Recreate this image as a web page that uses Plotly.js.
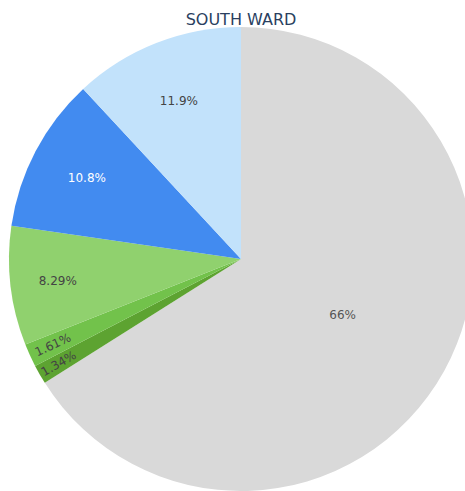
<!DOCTYPE html>
<html>
<head>
<meta charset="utf-8">
<script src="https://cdn.plot.ly/plotly-3.0.1.min.js"></script>
<style>
html, body { margin: 0; padding: 0; overflow: hidden; background: #fff; }
#chart { width: 482px; height: 491px; }
</style>
</head>
<body>
<div id="chart"></div>
<script>
const labels = ["Other", "Group A", "Group B", "Group C", "Group D", "Group E"];
const values = [66, 1.34, 1.61, 8.29, 10.8, 11.9];
const colors = ["#d9d9d9", "#5da331", "#72c24b", "#90d16e", "#428bf0", "#c2e2fb"];
const textColors = ["#555555", "#444444", "#444444", "#444444", "#ffffff", "#444444"];
const chartTitle = "SOUTH WARD";

Plotly.newPlot("chart", [{
  type: "pie",
  labels: labels,
  values: values,
  sort: false,
  direction: "clockwise",
  rotation: 0,
  textinfo: "percent",
  textposition: "inside",
  insidetextorientation: "auto",
  marker: { colors: colors, line: { width: 0 } },
  textfont: { size: 12, color: textColors, family: "DejaVu Sans, sans-serif" },
  hoverinfo: "label+percent"
}], {
  width: 482,
  height: 491,
  showlegend: false,
  title: { text: chartTitle, x: 0.5, xanchor: "center", y: 0.96, yanchor: "middle", font: { size: 16, color: "#2a3f5f", family: "DejaVu Sans, sans-serif" } },
  margin: { l: 0, r: 0, t: 27, b: 0 },
  paper_bgcolor: "#ffffff",
  font: { family: "DejaVu Sans, sans-serif" }
}, { displayModeBar: false, staticPlot: true });
</script>
</body>
</html>
